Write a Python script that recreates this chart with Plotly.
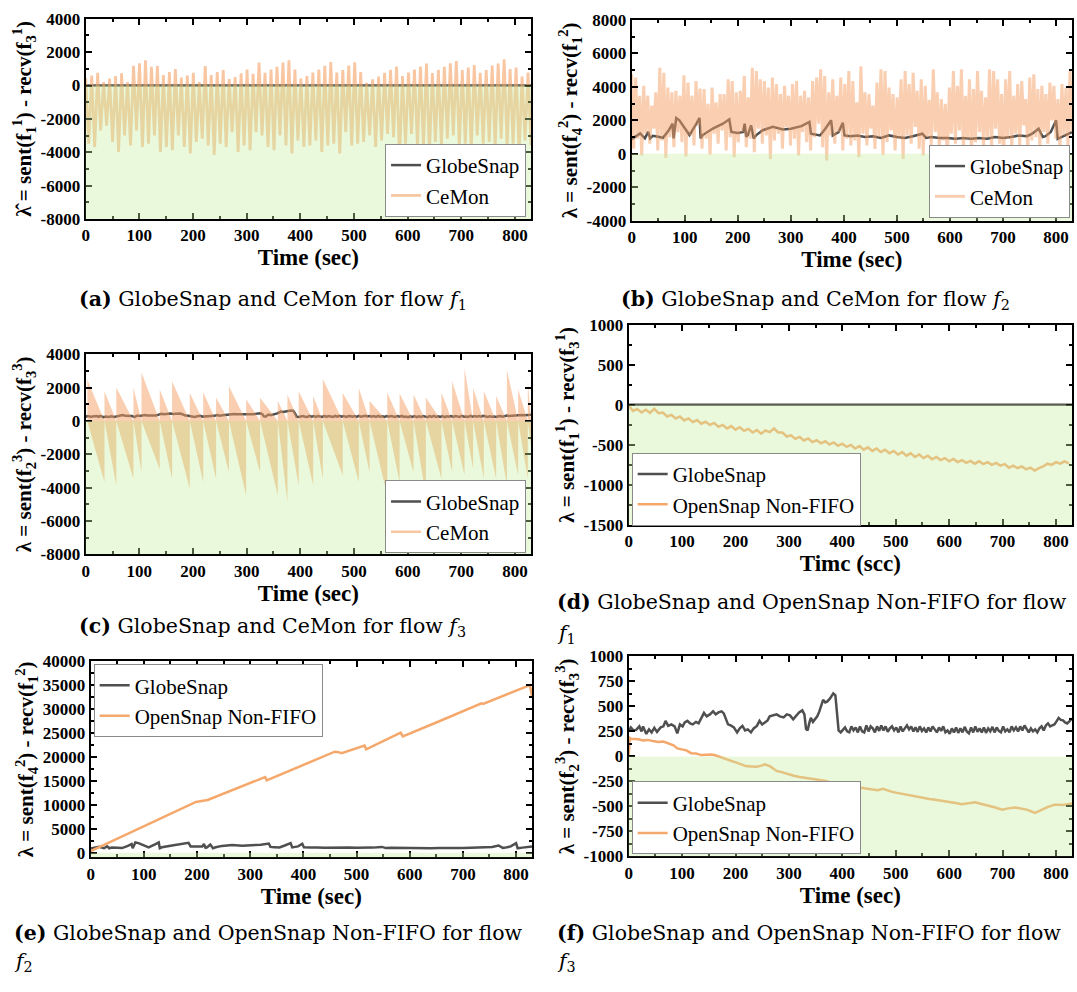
import numpy as np
import plotly.graph_objects as go

# ---------------- DATA ----------------
# Flow f1: GlobeSnap (flat at 0)
gs_f1_t = [0, 830]
gs_f1_v = [0, 0]

# Flow f1: CeMon oscillation (peaks and troughs alternate in time)
cemon_a_peaks = [430, 590, 765, 200, 410, 570, 725, 200, 1180, 1330,
                 1510, 1120, 1160, 630, 800, 980, 470, 590, 765, 200,
                 1160, 630, 800, 920, 390, 510, 725, 960, 700, 1370,
                 765, 960, 1120, 1370, 1510, 960, 420, 570, 780, 960,
                 1180, 1410, 780, 920, 1200, 1390, 800, 160, 370, 530,
                 760, 940, 1140, 570, 780, 960, 1140, 1310, 740, 940,
                 1120, 1330, 1470, 920, 1080, 1230, 760, 920, 1200, 1310,
                 1570, 980, 1080, 530, 780]
cemon_a_troughs = [-3490, -3680, -2700, -2410, -3390, -3980, -3000, -3590, -2700, -3680,
                   -3490, -3000, -3980, -3680, -3880, -3000, -3680, -4080, -3390, -3190,
                   -3590, -4170, -3490, -3680, -2800, -3980, -3590, -3880, -2800, -3000,
                   -3680, -3880, -3000, -3590, -4080, -3290, -3680, -3600, -3290, -3980,
                   -3590, -3490, -4080, -2800, -3590, -3490, -3390, -3000, -3680, -3290,
                   -2900, -3100, -4370, -3490, -2900, -3590, -3680, -4080, -3390, -3590,
                   -3190, -3000, -3680, -3490, -3880, -3000, -3490, -3390, -3780, -3190,
                   -3680, -3490, -4170, -3300, -3600]

# Flow f1: OpenSnap Non-FIFO (sampled every 8 s)
os_f1_step = 8
os_f1_v = [-10, -75, -50, -95, -60, -100, -50, -105, -95, -145,
           -125, -170, -145, -195, -170, -215, -190, -235, -210, -250,
           -225, -275, -250, -295, -265, -310, -280, -325, -300, -345,
           -315, -360, -320, -340, -295, -345, -345, -395, -380, -425,
           -400, -445, -420, -465, -440, -480, -455, -495, -470, -510,
           -485, -525, -500, -545, -515, -560, -530, -575, -545, -590,
           -560, -605, -575, -620, -590, -635, -605, -650, -620, -665,
           -635, -680, -650, -690, -665, -705, -675, -715, -690, -725,
           -700, -735, -705, -740, -715, -750, -725, -760, -740, -785,
           -760, -790, -770, -805, -785, -820, -790, -770, -735, -750,
           -715, -735, -705, -730]

# Flow f2: GlobeSnap
gs_f2_t = [0, 10, 16, 25, 31, 35, 40, 50, 59, 70,
           77, 79, 81, 84, 90, 106, 109, 122, 128, 130,
           134, 153, 172, 184, 188, 200, 210, 213, 216, 219,
           225, 230, 235, 247, 266, 285, 300, 320, 335, 338,
           345, 355, 365, 376, 379, 390, 398, 401, 413, 425,
           440, 455, 470, 485, 500, 515, 530, 548, 555, 565,
           580, 595, 610, 625, 640, 655, 670, 685, 700, 715,
           730, 745, 755, 767, 775, 780, 790, 800, 803, 812,
           822, 830]
gs_f2_v = [880, 1120, 1215, 920, 1310, 920, 1080, 1020, 960, 1410,
           1800, 920, 1510, 2140, 2000, 1215, 1120, 1800, 2140, 920,
           1120, 1510, 1800, 2060, 1310, 1250, 1310, 1800, 1020, 1120,
           1700, 920, 1120, 1410, 1610, 1450, 1500, 1650, 1900, 1200,
           1150, 1100, 1500, 2000, 1100, 1300, 1860, 1100, 1050, 1100,
           1000, 1050, 950, 1100, 1000, 950, 1050, 1200, 950, 1000,
           950, 950, 900, 950, 900, 950, 900, 1000, 950, 1000,
           1100, 1050, 1200, 1500, 1000, 1050, 1300, 2000, 900, 1050,
           1200, 1300]

# Flow f2: CeMon oscillation
cemon_b_peaks = [4740, 4550, 3470, 4060, 3470, 2880, 3670, 5140, 4840, 3960,
                 3670, 3760, 3470, 4680, 4250, 3470, 4350, 3900, 3860, 2980,
                 3960, 3080, 3570, 3570, 4450, 4350, 3670, 3760, 4650, 3370,
                 5140, 4940, 4450, 4350, 3960, 4550, 4160, 3570, 4060, 3470,
                 4160, 4350, 3470, 3760, 3370, 4350, 4550, 5040, 4650, 3670,
                 4450, 3470, 4550, 4160, 4940,
                 4350, 3080, 5230, 3670, 3570, 2880, 4250, 5040, 4940,
                 3960, 3570, 3370, 4450, 4940, 4160, 4840, 3760, 4450, 4060,
                 3230, 5040, 3670, 3270, 2980, 3960, 4940, 4060, 5040, 3470,
                 4450, 3860, 4940, 3760, 3370, 5040, 4940, 4450, 3570, 4450,
                 4940, 3470, 4160, 4350, 3270, 4550, 4740, 3860, 4060, 3570,
                 4250, 4060, 3270, 4160, 3960, 4940]
cemon_b_troughs = [300, 900, -100, 1200, 600, 1500, 200, 800, -250, 1000,
                   400, 1300, 700, -150, 1100, 500, 1700, 300, 900, -50,
                   1200, 600, 1400, 200, 1000, -200, 700, 1300, 400, 900,
                   100, 1500, 600, 1100, -300, 800, 1200, 300, 1600, 500,
                   900, -100, 1300, 700, 200, 1000, 1800, 400, -400, 1100,
                   600, 1300, 200, 900, 500,
                   800, -200, 1200, 500, 1500, 300, 1000, -50, 700, 1400,
                   200, 900, -300, 1100, 600, 1600, 300, -100, 1000, 500,
                   1300, 200, 800, -500, 1200, 600, 1400, 100, 900, -200,
                   700, 1300, 400, 1000, 200, 1500, 600, -350, 900, 300,
                   1200, 500, 1700, 100, 800, 1000, 400, 1300, 600, 2000,
                   900, 300, 1100, 500, 1300]

# Flow f2: OpenSnap Non-FIFO
os_f2_t = [0, 100, 198, 220, 328, 331, 400, 459, 466, 472,
           515, 518, 583, 587, 650, 735, 738, 826, 830]
os_f2_v = [300, 5500, 10600, 11000, 15800, 15100, 18300, 21100, 21000, 20800,
           22400, 21600, 25100, 24300, 27200, 31200, 31100, 35000, 32600]

# Flow f3: GlobeSnap
gs_f3_t = [0, 4, 9, 14, 20, 24, 27, 33, 38, 43,
           48, 53, 60, 65, 69, 74, 80, 86, 91, 96,
           101, 105, 110, 115, 120, 126, 131, 136, 141, 146,
           152, 158, 163, 168, 174, 178, 182, 186, 191, 197,
           203, 208, 213, 218, 223, 229, 234, 240, 245, 250,
           255, 260, 264, 270, 277, 283, 290, 296, 302, 308,
           313, 319, 325, 329, 332, 335, 338, 341, 345, 349,
           353, 357, 361, 364, 368, 372, 377, 380, 383, 387,
           390, 393, 397] + list(range(401, 826, 4)) + [830]
gs_f3_v = [250, 290, 260, 265, 300, 250, 300, 225, 270, 240,
           285, 245, 290, 300, 355, 305, 320, 300, 230, 320,
           300, 340, 355, 330, 320, 345, 330, 380, 435, 400,
           420, 450, 420, 440, 450, 430, 380, 320, 310, 290,
           240, 280, 305, 260, 270, 240, 280, 305, 355, 320,
           340, 360, 400, 410, 420, 400, 390, 420, 410, 370,
           400, 440, 460, 420, 275, 260, 330, 385, 345, 370,
           400, 450, 520, 565, 540, 550, 580, 610, 630, 610,
           450, 260, 240,
           270, 290, 250, 240, 300, 260, 290, 240, 300, 250,
           240, 310, 250, 300, 280, 240, 300, 255, 310, 260,
           300, 245, 280, 300, 260, 290, 240, 300, 250, 280,
           310, 270, 300, 250, 290, 245, 300, 255, 280, 240,
           290, 250, 300, 270, 240, 290, 255, 300, 240, 260,
           225, 280, 240, 290, 235, 280, 240, 295, 250, 230,
           290, 240, 300, 245, 280, 240, 290, 235, 280, 250,
           295, 240, 290, 255, 240, 300, 250, 270, 240, 300,
           260, 290, 250, 300, 260, 310, 270, 240, 280, 250,
           270, 240, 280, 300, 260, 310, 330, 300, 310, 320,
           350, 385, 365, 360, 340, 330, 350,
           380]

# Flow f3: CeMon sawtooth cycles (cycle start times, peak, trough at next start)
cemon_c_t = [3, 35, 57, 89, 104, 138, 161, 194, 219, 243,
             267, 299, 325, 358, 376, 397, 424, 442, 479, 509,
             529, 562, 585, 611, 634, 663, 683, 706, 722, 742,
             765, 785, 806, 824, 830]
cemon_c_peaks = [2480, 1780, 2000, 2000, 2910, 1880, 2380, 1680, 1720, 1400,
                 2080, 1300, 1390, 1200, 1580, 1780, 1500, 2510, 1680, 1980,
                 1200, 1700, 1640, 1580, 1400, 1700, 2380, 3170, 1980, 1800,
                 1500, 3070, 1900, 2380]
cemon_c_troughs = [-3660, -3860, -3460, -3070, -2900, -3460, -4060, -3660, -3460, -3070,
                   -4460, -3070, -4460, -4850, -3860, -3860, -3460, -3260, -3660, -3070,
                   -4460, -3660, -3070, -4460, -3460, -3070, -3260, -2870, -3460, -3460,
                   -3860, -3260, -3460, -1500]

# Flow f3: OpenSnap Non-FIFO
os_f3_t = [0, 2, 4.5, 10, 18, 27, 36, 45, 56, 65,
           75, 84, 91, 100, 108, 117, 126, 136, 145, 155,
           162, 168, 176, 185, 194, 203, 211, 219, 229, 239,
           247, 255, 265, 277, 288, 298, 309, 320, 330, 340,
           348, 358, 367, 376, 385, 393, 402, 410, 418, 425,
           433, 442, 450, 458, 466, 476, 484, 492, 500, 508,
           516, 524, 532, 540, 548, 556, 563, 571, 579, 591,
           599, 607, 615, 623, 631, 640, 649, 657, 665, 675,
           683, 692, 700, 708, 716, 723, 731, 739, 745, 753,
           761, 769, 777, 785, 791, 797, 805, 812, 819, 826,
           830]
os_f3_v = [0, 185, 177, 178, 172, 160, 165, 155, 145, 148,
           128, 110, 80, 72, 60, 32, 28, 13, 18, 19,
           12, 0, -15, -35, -55, -65, -80, -97, -100, -103,
           -95, -80, -100, -145, -160, -178, -194, -205, -215, -225,
           -232, -236, -242, -260, -270, -280, -288, -293, -300, -306,
           -312, -318, -325, -332, -339, -323, -340, -352, -362, -371,
           -380, -388, -395, -403, -410, -418, -426, -430, -436, -445,
           -452, -460, -468, -477, -470, -462, -458, -470, -480, -490,
           -505, -520, -532, -522, -512, -510, -518, -525, -532, -548,
           -565, -545, -522, -505, -495, -484, -482, -486, -480, -477,
           -470]

# Tick values per panel
xticks = [0, 100, 200, 300, 400, 500, 600, 700, 800]
yticks_a = [-8000, -6000, -4000, -2000, 0, 2000, 4000]
yticks_b = [-4000, -2000, 0, 2000, 4000, 6000, 8000]
yticks_c = [-8000, -6000, -4000, -2000, 0, 2000, 4000]
yticks_d = [-1500, -1000, -500, 0, 500, 1000]
yticks_e = [0, 5000, 10000, 15000, 20000, 25000, 30000, 35000, 40000]
yticks_f = [-1000, -750, -500, -250, 0, 250, 500, 750, 1000]

# ---------------- STYLE ----------------
W, H = 1077, 992
FONT = "Liberation Serif, Times New Roman, serif"
CAP_FONT = "DejaVu Serif, serif"
GS_COLOR = "#4f4f4f"
CEMON_COLOR = "rgba(245,160,100,0.6)"
CEMON_COLOR_B = "rgba(245,160,100,0.5)"
OS_COLOR = "#F5A86C"
GREEN = "rgba(200,236,160,0.38)"

def interleave(hi, lo):
    n = min(len(hi), len(lo))
    out = []
    for a, b in zip(hi[:n], lo[:n]):
        out += [a, b]
    return out

cemon_a_v = interleave(cemon_a_peaks, cemon_a_troughs)
cemon_a_t = np.linspace(0, 830, len(cemon_a_v))
cemon_b_v = interleave(cemon_b_peaks, cemon_b_troughs)
cemon_b_t = np.linspace(0, 830, len(cemon_b_v))
os_f1_t = np.arange(len(os_f1_v)) * os_f1_step

up_x, up_y, lo_x, lo_y = [], [], [], []
for i in range(min(len(cemon_c_peaks), len(cemon_c_troughs), len(cemon_c_t) - 1)):
    t0, t1 = cemon_c_t[i], cemon_c_t[i + 1]
    up_x += [t0, t0, t1]
    up_y += [0, cemon_c_peaks[i], 0]
    lo_x += [t0, t1, t1]
    lo_y += [0, cemon_c_troughs[i], 0]

def px_x(a, b):
    return [a / W, b / W]

def px_y(top, bot):
    return [1 - bot / H, 1 - top / H]

panels = [
    dict(dx=px_x(82, 529), dy=px_y(10, 214), yr=[-8000, 4000], yt_vals=yticks_a, mt=1000,
         yt="λ\u0302 = sent(f<sub>1</sub><sup>1</sup>) - recv(f<sub>3</sub><sup>1</sup>)",
         xt="Time (sec)",
         leg=dict(x=524 / W, y=1 - 212 / H, xanchor="right", yanchor="bottom")),
    dict(dx=px_x(630, 1072), dy=px_y(11, 216), yr=[-4000, 8000], yt_vals=yticks_b, mt=1000,
         yt="λ = sent(f<sub>4</sub><sup>2</sup>) - recv(f<sub>1</sub><sup>2</sup>)",
         xt="Time (sec)",
         leg=dict(x=1070 / W, y=1 - 213 / H, xanchor="right", yanchor="bottom")),
    dict(dx=px_x(82, 529), dy=px_y(352, 556), yr=[-8000, 4000], yt_vals=yticks_c, mt=1000,
         yt="λ = sent(f<sub>2</sub><sup>3</sup>) - recv(f<sub>3</sub><sup>3</sup>)",
         xt="Time (sec)",
         leg=dict(x=524 / W, y=1 - 555 / H, xanchor="right", yanchor="bottom")),
    dict(dx=px_x(627, 1072), dy=px_y(322, 526), yr=[-1500, 1000], yt_vals=yticks_d, mt=250,
         yt="λ = sent(f<sub>1</sub><sup>1</sup>) - recv(f<sub>3</sub><sup>1</sup>)",
         xt="Timc (scc)",
         leg=dict(x=630 / W, y=1 - 527 / H, xanchor="left", yanchor="bottom")),
    dict(dx=px_x(87, 530), dy=px_y(665, 865), yr=[-1000, 40000], yt_vals=yticks_e, mt=2500,
         yt="λ = sent(f<sub>4</sub><sup>2</sup>) - recv(f<sub>1</sub><sup>2</sup>)",
         xt="Time (sec)",
         leg=dict(x=90 / W, y=1 - 668 / H, xanchor="left", yanchor="top")),
    dict(dx=px_x(627, 1072), dy=px_y(660, 864), yr=[-1000, 1000], yt_vals=yticks_f, mt=125,
         yt="λ = sent(f<sub>2</sub><sup>3</sup>) - recv(f<sub>3</sub><sup>3</sup>)",
         xt="Time (sec)",
         leg=dict(x=630 / W, y=1 - 862 / H, xanchor="left", yanchor="bottom")),
]

fig = go.Figure()

def ax_ids(i):
    n = "" if i == 1 else str(i)
    return "x" + n, "y" + n, "legend" + n

def gs_trace(i, t, v):
    xa, ya, lg = ax_ids(i)
    return go.Scatter(x=t, y=v, mode="lines", name="GlobeSnap", xaxis=xa, yaxis=ya,
                      legend=lg, line=dict(color=GS_COLOR, width=2.5))

# (a)
fig.add_trace(gs_trace(1, gs_f1_t, gs_f1_v))
fig.add_trace(go.Scatter(x=cemon_a_t, y=cemon_a_v, mode="lines", name="CeMon",
                         xaxis="x", yaxis="y", legend="legend",
                         line=dict(color=CEMON_COLOR, width=2.8)))
# (b)
fig.add_trace(gs_trace(2, gs_f2_t, gs_f2_v))
fig.add_trace(go.Scatter(x=cemon_b_t, y=cemon_b_v, mode="lines", name="CeMon",
                         xaxis="x2", yaxis="y2", legend="legend2",
                         line=dict(color=CEMON_COLOR_B, width=3)))
# (c)
fig.add_trace(gs_trace(3, gs_f3_t, gs_f3_v))
fig.add_trace(go.Scatter(x=up_x, y=up_y, mode="lines", fill="tozeroy", fillcolor=CEMON_COLOR_B,
                         line=dict(width=0, color=CEMON_COLOR_B), showlegend=False,
                         xaxis="x3", yaxis="y3"))
fig.add_trace(go.Scatter(x=lo_x, y=lo_y, mode="lines", fill="tozeroy", fillcolor=CEMON_COLOR,
                         line=dict(width=0, color=CEMON_COLOR), showlegend=False,
                         xaxis="x3", yaxis="y3"))
fig.add_trace(go.Scatter(x=[None], y=[None], mode="lines", name="CeMon",
                         xaxis="x3", yaxis="y3", legend="legend3",
                         line=dict(color=CEMON_COLOR, width=2.5)))
# (d)
fig.add_trace(gs_trace(4, gs_f1_t, gs_f1_v))
fig.add_trace(go.Scatter(x=os_f1_t, y=os_f1_v, mode="lines", name="OpenSnap Non-FIFO",
                         xaxis="x4", yaxis="y4", legend="legend4",
                         line=dict(color=OS_COLOR, width=2.5)))
# (e)
fig.add_trace(gs_trace(5, gs_f2_t, gs_f2_v))
fig.add_trace(go.Scatter(x=os_f2_t, y=os_f2_v, mode="lines", name="OpenSnap Non-FIFO",
                         xaxis="x5", yaxis="y5", legend="legend5",
                         line=dict(color=OS_COLOR, width=2.5)))
# (f)
fig.add_trace(gs_trace(6, gs_f3_t, gs_f3_v))
fig.add_trace(go.Scatter(x=os_f3_t, y=os_f3_v, mode="lines", name="OpenSnap Non-FIFO",
                         xaxis="x6", yaxis="y6", legend="legend6",
                         line=dict(color=OS_COLOR, width=2.5)))

layout = dict(width=W, height=H, margin=dict(l=0, r=0, t=0, b=0),
              paper_bgcolor="white", plot_bgcolor="white", shapes=[], annotations=[])

tickfont = dict(family=FONT, size=17, color="black", weight="bold")
xtitlefont = dict(family=FONT, size=23, color="black", weight="bold")
ytitlefont = dict(family=FONT, size=21, color="black", weight="bold")

for i, p in enumerate(panels, start=1):
    n = "" if i == 1 else str(i)
    common = dict(showline=True, linecolor="black", linewidth=2, mirror="ticks",
                  ticks="inside", ticklen=6, tickwidth=1.5, tickcolor="black",
                  showgrid=False, zeroline=False, tickfont=tickfont)
    layout["xaxis" + n] = dict(common, domain=p["dx"], anchor="y" + n, range=[0, 830],
                               tickmode="array", tickvals=xticks, ticktext=[str(v) for v in xticks],
                               minor=dict(ticks="inside", ticklen=3, tick0=0, dtick=50, tickcolor="black"),
                               title=dict(text=p["xt"], font=xtitlefont, standoff=3))
    layout["yaxis" + n] = dict(common, domain=p["dy"], anchor="x" + n, range=p["yr"],
                               tickmode="array", tickvals=p["yt_vals"],
                               ticktext=[str(v) for v in p["yt_vals"]],
                               minor=dict(ticks="inside", ticklen=3, tick0=0, dtick=p["mt"], tickcolor="black"),
                               title=dict(text=p["yt"], font=ytitlefont, standoff=3))
    layout["legend" + n] = dict(p["leg"], bgcolor="white", bordercolor="#8a8a8a", borderwidth=1,
                                font=dict(family=FONT, size=21, color="black"),
                                tracegroupgap=0)
    layout["shapes"].append(dict(type="rect", xref="x" + n + " domain", yref="y" + n,
                                 x0=0, x1=1, y0=p["yr"][0], y1=0, fillcolor=GREEN,
                                 line=dict(width=0), layer="above"))

CAP = dict(family=CAP_FONT, size=20.5, color="black")
captions = [
    ("<b>(a)</b> GlobeSnap and CeMon for flow <i>f</i><sub>1</sub>", 270, 297, "center"),
    ("<b>(b)</b> GlobeSnap and CeMon for flow <i>f</i><sub>2</sub>", 815, 297, "center"),
    ("<b>(c)</b> GlobeSnap and CeMon for flow <i>f</i><sub>3</sub>", 270, 630, "center"),
    ("<b>(d)</b> GlobeSnap and OpenSnap Non-FIFO for flow", 553, 605, "left"),
    ("<i>f</i><sub>1</sub>", 553, 637, "left"),
    ("<b>(e)</b> GlobeSnap and OpenSnap Non-FIFO for flow", 8, 942, "left"),
    ("<i>f</i><sub>2</sub>", 8, 972, "left"),
    ("<b>(f)</b> GlobeSnap and OpenSnap Non-FIFO for flow", 553, 942, "left"),
    ("<i>f</i><sub>3</sub>", 553, 972, "left"),
]
for text, x, y, anc in captions:
    layout["annotations"].append(dict(text=text, x=x / W, y=1 - y / H, xref="paper", yref="paper",
                                      xanchor=anc, yanchor="middle", showarrow=False, font=CAP))

fig.update_layout(**layout)
fig.write_html("out.html")
